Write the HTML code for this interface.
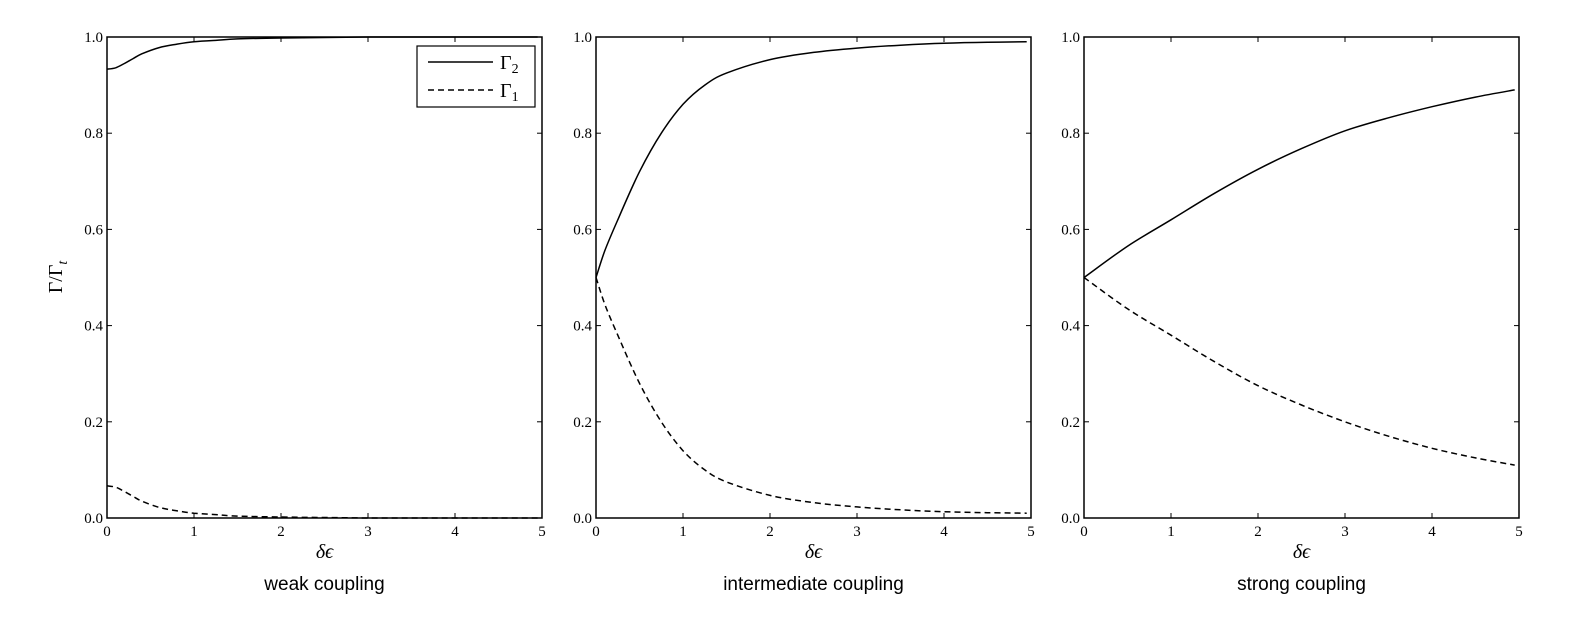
<!DOCTYPE html>
<html><head><meta charset="utf-8"><style>
html,body{margin:0;padding:0;background:#fff;}
svg{display:block;}
.tk{font-family:"Liberation Serif","DejaVu Serif",serif;font-size:15px;fill:#000;}
.ttl{font-family:"Liberation Sans","DejaVu Sans",sans-serif;font-size:19px;fill:#000;}
.ax{font-family:"Liberation Serif","DejaVu Serif",serif;font-size:20px;font-style:italic;fill:#000;}
.rm{font-family:"Liberation Serif","DejaVu Serif",serif;font-size:20px;fill:#000;}
</style></head><body>
<svg id="chart" width="1590" height="630"></svg>
<script>
const xTicks=[0,1,2,3,4,5];
const yTicks=[0.0,0.2,0.4,0.6,0.8,1.0];
const titles=["weak coupling","intermediate coupling","strong coupling"];
const weakX=[0,0.1,0.2,0.3,0.4,0.6,0.8,1,1.25,1.5,2,2.5,3,3.5,4,4.5,4.95];
const weakG2=[0.933,0.936,0.945,0.955,0.965,0.978,0.985,0.99,0.993,0.996,0.998,0.999,1,1,1,1,1];
const weakG1=[0.067,0.064,0.055,0.045,0.035,0.022,0.015,0.01,0.007,0.004,0.002,0.001,0,0,0,0,0];
const interX=[0,0.1,0.25,0.5,0.75,1,1.25,1.5,2,2.5,3,3.5,4,4.5,4.95];
const interG2=[0.5,0.555,0.62,0.72,0.8,0.86,0.9,0.925,0.953,0.968,0.977,0.983,0.987,0.989,0.99];
const interG1=[0.5,0.445,0.38,0.28,0.2,0.14,0.1,0.075,0.047,0.032,0.023,0.017,0.013,0.011,0.01];
const strongX=[0,0.5,1,1.5,2,2.5,3,3.5,4,4.5,4.95];
const strongG2=[0.5,0.565,0.62,0.675,0.725,0.768,0.805,0.832,0.855,0.875,0.89];
const strongG1=[0.5,0.435,0.38,0.325,0.275,0.235,0.2,0.17,0.145,0.125,0.11];
const panels=[[weakX,weakG2,weakG1],[interX,interG2,interG1],[strongX,strongG2,strongG1]];
const lefts=[107,596,1084], W=435, topY=37, botY=518;
const svg=document.getElementById('chart');
const NS='http://www.w3.org/2000/svg';
function mk(t,a,p){const e=document.createElementNS(NS,t);for(const k in a)e.setAttribute(k,a[k]);(p||svg).appendChild(e);return e;}
function smooth(pts){
  let d='M'+pts[0][0].toFixed(1)+','+pts[0][1].toFixed(1);
  for(let i=0;i<pts.length-1;i++){
    const p0=pts[Math.max(0,i-1)],p1=pts[i],p2=pts[i+1],p3=pts[Math.min(pts.length-1,i+2)];
    const c1=[p1[0]+(p2[0]-p0[0])/6,p1[1]+(p2[1]-p0[1])/6];
    const c2=[p2[0]-(p3[0]-p1[0])/6,p2[1]-(p3[1]-p1[1])/6];
    d+='C'+c1[0].toFixed(1)+','+c1[1].toFixed(1)+' '+c2[0].toFixed(1)+','+c2[1].toFixed(1)+' '+p2[0].toFixed(1)+','+p2[1].toFixed(1);
  }
  return d;
}
panels.forEach((pd,i)=>{
  const L=lefts[i];
  const sx=v=>L+v/5*W, sy=v=>botY-v*(botY-topY);
  const g=mk('g',{});
  
  
  const fr=mk('rect',{x:L,y:topY,width:W,height:botY-topY,fill:'none',stroke:'#000','stroke-width':1.5},g);
  
  
  xTicks.forEach(t=>{
    const x=sx(t);
    mk('line',{x1:x,x2:x,y1:botY,y2:botY-5,stroke:'#000'},g);
    mk('line',{x1:x,x2:x,y1:topY,y2:topY+5,stroke:'#000'},g);
    const tx=mk('text',{x:x,y:botY+18,'text-anchor':'middle',class:'tk'},g);tx.textContent=t;
    
    
  });
  yTicks.forEach(t=>{
    const y=sy(t);
    mk('line',{x1:L,x2:L+5,y1:y,y2:y,stroke:'#000'},g);
    mk('line',{x1:L+W,x2:L+W-5,y1:y,y2:y,stroke:'#000'},g);
    const ty=mk('text',{x:L-4,y:y+5,'text-anchor':'end',class:'tk'},g);ty.textContent=t.toFixed(1);
    
    
  });
  const xs=pd[0];
  const p2=smooth(xs.map((x,j)=>[sx(x),sy(pd[1][j])]));
  const p1=smooth(xs.map((x,j)=>[sx(x),sy(pd[2][j])]));
  const l2=mk('path',{d:p2,fill:'none',stroke:'#000','stroke-width':1.5},g);
  
  
  const l1=mk('path',{d:p1,fill:'none',stroke:'#000','stroke-width':1.5,'stroke-dasharray':'6,4'},g);
  
  
  const xl=mk('text',{x:L+W/2,y:558,'text-anchor':'middle',class:'ax'},g);xl.textContent='δϵ';
  
  
  const tt=mk('text',{x:L+W/2,y:590,'text-anchor':'middle',class:'ttl'},g);tt.textContent=titles[i];
  
  
});
const yl=mk('text',{x:0,y:0,class:'rm',transform:'translate(62,277) rotate(-90)','text-anchor':'middle'});
yl.innerHTML='Γ/Γ<tspan font-size="14" dy="5" style="font-style:italic">t</tspan>';


const lg=mk('g',{});


mk('rect',{x:417,y:46,width:118,height:61,fill:'#fff',stroke:'#000','stroke-width':1.2},lg);
mk('line',{x1:428,x2:493,y1:62,y2:62,stroke:'#000','stroke-width':1.5},lg);
mk('line',{x1:428,x2:493,y1:90,y2:90,stroke:'#000','stroke-width':1.5,'stroke-dasharray':'6,4'},lg);
const e2=mk('text',{x:500,y:69,class:'rm'},lg);e2.innerHTML='Γ<tspan font-size="14" dy="4">2</tspan>';


const e1=mk('text',{x:500,y:97,class:'rm'},lg);e1.innerHTML='Γ<tspan font-size="14" dy="4">1</tspan>';


</script>
</body></html>
